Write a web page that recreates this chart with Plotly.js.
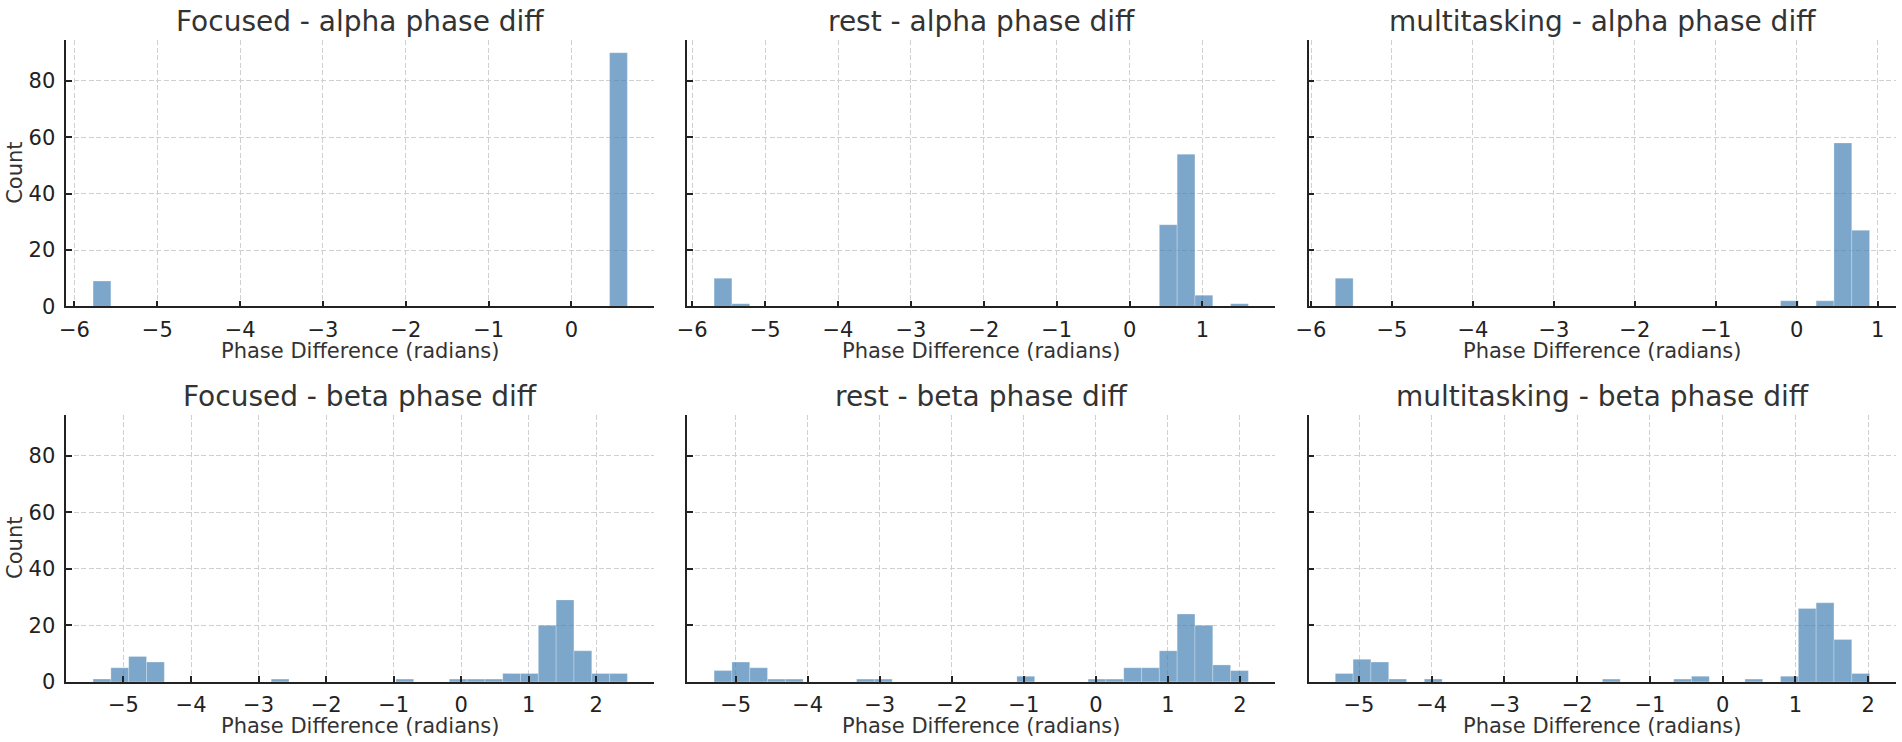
<!DOCTYPE html>
<html>
<head>
<meta charset="utf-8">
<script src="https://cdn.plot.ly/plotly-3.0.1.min.js"></script>
<style>
  body { margin: 0; background: #fff; }
  #phase-hist { width: 1902px; height: 742px; }
</style>
</head>
<body>
<div id="phase-hist"></div>
<script>
//panel titles, row by row
const panelTitles = [
  'Focused - alpha phase diff',
  'rest - alpha phase diff',
  'multitasking - alpha phase diff',
  'Focused - beta phase diff',
  'rest - beta phase diff',
  'multitasking - beta phase diff',
]
//30 bins per panel, first left edge / last right edge (radians)
const binLo = [-5.775, -5.7, -5.7, -5.45, -5.3, -5.326]
const binHi = [0.675, 1.63, 0.9, 2.46, 2.118, 2.02]

//counts
const focusedAlpha = [9,0,0,0,0,0,0,0,0,0, 0,0,0,0,0,0,0,0,0,0, 0,0,0,0,0,0,0,0,0,90]
const restAlpha = [10,1,0,0,0,0,0,0,0,0, 0,0,0,0,0,0,0,0,0,0, 0,0,0,0,0,29,54,4,0,1]
const multiAlpha = [10,0,0,0,0,0,0,0,0,0, 0,0,0,0,0,0,0,0,0,0, 0,0,0,0,0,2,0,2,58,27]
const focusedBeta = [1,5,9,7,0,0,0,0,0,0, 1,0,0,0,0,0,0,1,0,0, 1,1,1,3,3,20,29,11,3,3]
const restBeta = [4,7,5,1,1,0,0,0,1,1, 0,0,0,0,0,0,0,2,0,0, 0,1,1,5,5,11,24,20,6,4]
const multiBeta = [3,8,7,1,0,1,0,0,0,0, 0,0,0,0,0,1,0,0,0,1, 2,0,0,1,0,2,26,28,15,3]
const panelCounts = [focusedAlpha, restAlpha, multiAlpha, focusedBeta, restBeta, multiBeta]

//style
const font = "'DejaVu Sans', sans-serif"
const barColor = 'rgba(70,130,180,0.7)'
const gridColor = '#d0d0d0'
const lineColor = '#222'
const textColor = '#333'
const titleSize = 28
const labelSize = 21
const tickSize = 21
const yMax = 94.5
//figure-fraction boxes (matplotlib-ish grid)
const colDomains = [[0.0349, 0.3439], [0.3614, 0.6704], [0.688, 0.997]]
const rowDomains = [[0.587, 0.946], [0.081, 0.441]]
const titleY = [0.971, 0.466]
const xlabelY = [0.5265, 0.0215]

function makePanel(i) {
  let counts = panelCounts[i]
  let w = (binHi[i] - binLo[i]) / counts.length
  let centers = counts.map((c, k) => binLo[i] + (k + 0.5) * w)
  let suffix = i == 0 ? '' : String(i + 1)
  return {
    type: 'bar',
    x: centers,
    y: counts,
    width: w,
    xaxis: 'x' + suffix,
    yaxis: 'y' + suffix,
    marker: {
      color: barColor,
      line: { color: 'rgba(255,255,255,0.5)', width: 0.5 },
    },
    hoverinfo: 'x+y',
    showlegend: false,
  }
}

function axisBase() {
  return {
    showline: true,
    linecolor: lineColor,
    linewidth: 1.8,
    mirror: false,
    ticks: 'inside',
    ticklen: 6,
    tickwidth: 1.5,
    tickcolor: lineColor,
    showgrid: true,
    gridcolor: gridColor,
    gridwidth: 1,
    griddash: '5px,2.5px',
    zeroline: false,
    tickfont: { family: font, size: tickSize, color: lineColor },
    fixedrange: true,
  }
}

let traces = []
let layout = {
  width: 1902,
  height: 742,
  margin: { l: 0, r: 0, t: 0, b: 0 },
  paper_bgcolor: '#fff',
  plot_bgcolor: '#fff',
  font: { family: font },
  annotations: [],
}

for (let i = 0; i < 6; i++) {
  let row = Math.floor(i / 3)
  let col = i % 3
  let suffix = i == 0 ? '' : String(i + 1)
  let span = binHi[i] - binLo[i]
  traces.push(makePanel(i))

  let xa = axisBase()
  xa.domain = colDomains[col]
  xa.anchor = 'y' + suffix
  //5% padding like matplotlib autoscale
  xa.range = [binLo[i] - 0.05 * span, binHi[i] + 0.05 * span]
  xa.dtick = 1
  xa.tick0 = 0
  xa.ticklabelstandoff = 3
  layout['xaxis' + suffix] = xa

  let ya = axisBase()
  ya.domain = rowDomains[row]
  ya.anchor = 'x' + suffix
  ya.range = [0, yMax]
  ya.dtick = 20
  ya.tick0 = 0
  ya.showticklabels = col == 0
  ya.ticklabelstandoff = 5
  layout['yaxis' + suffix] = ya

  let cx = (colDomains[col][0] + colDomains[col][1]) / 2
  layout.annotations.push({
    xref: 'paper', yref: 'paper', x: cx, y: titleY[row],
    xanchor: 'center', yanchor: 'middle', showarrow: false,
    text: panelTitles[i],
    font: { family: font, size: titleSize, color: textColor },
  })
  layout.annotations.push({
    xref: 'paper', yref: 'paper', x: cx, y: xlabelY[row],
    xanchor: 'center', yanchor: 'middle', showarrow: false,
    text: 'Phase Difference (radians)',
    font: { family: font, size: labelSize, color: textColor },
  })
  if (col == 0) {
    let cy = (rowDomains[row][0] + rowDomains[row][1]) / 2
    layout.annotations.push({
      xref: 'paper', yref: 'paper', x: 0.0082, y: cy,
      xanchor: 'center', yanchor: 'middle', showarrow: false,
      textangle: -90,
      text: 'Count',
      font: { family: font, size: labelSize, color: textColor },
    })
  }
}

Plotly.newPlot('phase-hist', traces, layout, {
  displayModeBar: false,
  responsive: false,
})
</script>
</body>
</html>
